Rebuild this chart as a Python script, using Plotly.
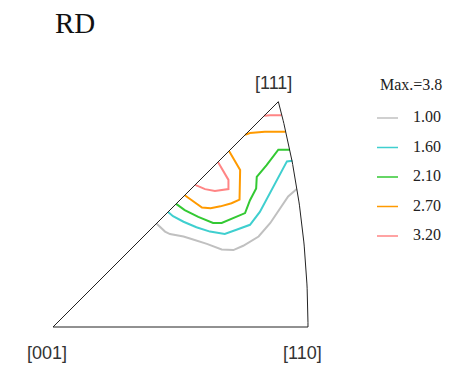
import numpy as np
import plotly.graph_objects as go

# Inverse pole figure (RD), stereographic projection of the standard triangle.
levels = ["1.00", "1.60", "2.10", "2.70", "3.20"]
colors = ["#c0c0c0", "#3fcfcf", "#33c933", "#ff9a00", "#ff8585"]
max_text = "Max.=3.8"

# Contour vertices (projection units); None separates pieces of the same level.
c100_x = [0.168, 0.182, 0.190, 0.212, 0.225, 0.250, 0.274, 0.293, 0.309, 0.334, 0.353, 0.369, 0.382, 0.396]
c100_y = [0.168, 0.155, 0.151, 0.147, 0.143, 0.135, 0.126, 0.125, 0.132, 0.147, 0.169, 0.193, 0.212, 0.224]

c160_x = [0.187, 0.195, 0.212, 0.233, 0.255, 0.279, 0.298, 0.320, 0.336, 0.355, 0.369, 0.380, 0.389]
c160_y = [0.187, 0.180, 0.171, 0.162, 0.155, 0.151, 0.158, 0.166, 0.187, 0.223, 0.247, 0.269, 0.270]

c210_x = [0.200, 0.214, 0.236, 0.260, 0.274, 0.293, 0.312, 0.320, 0.330, 0.331, 0.347, 0.366, 0.385]
c210_y = [0.200, 0.190, 0.179, 0.169, 0.169, 0.177, 0.185, 0.206, 0.225, 0.244, 0.263, 0.288, 0.288]

c270_x = [0.214, 0.225, 0.242, 0.256, 0.272, 0.290, 0.303, 0.304, 0.294, 0.286, None,
          0.312, 0.320, 0.344, 0.378]
c270_y = [0.214, 0.206, 0.194, 0.193, 0.196, 0.201, 0.207, 0.255, 0.271, 0.286, None,
          0.312, 0.315, 0.317, 0.317]

c320_x = [0.231, 0.247, 0.263, 0.276, 0.285, 0.285, 0.276, 0.268, None, 0.343, 0.353, 0.3715]
c320_y = [0.231, 0.224, 0.221, 0.223, 0.224, 0.239, 0.255, 0.268, None, 0.343, 0.344, 0.344]

contours_x = [c100_x, c160_x, c210_x, c270_x, c320_x]
contours_y = [c100_y, c160_y, c210_y, c270_y, c320_y]

# Triangle boundary: [001] -> [110] along the axis, great-circle arc up to [111],
# then straight back to [001].
v = np.linspace(0.0, 1.0, 60)
n = np.sqrt(2.0 + v ** 2)
arc_x = 1.0 / (n + 1.0)
arc_y = v / (n + 1.0)
tri_x = [0.0] + list(arc_x) + [0.0]
tri_y = [0.0] + list(arc_y) + [0.0]

W, H = 465, 367
scale = 615.6          # pixels per projection unit
ox, oy = 53, 327       # pixel position of [001]

fig = go.Figure()
for xs, ys, col in zip(contours_x, contours_y, colors):
    fig.add_trace(go.Scatter(x=xs, y=ys, mode="lines", connectgaps=False,
                             line=dict(color=col, width=2), hoverinfo="skip",
                             showlegend=False))
fig.add_trace(go.Scatter(x=tri_x, y=tri_y, mode="lines",
                         line=dict(color="#222222", width=1), hoverinfo="skip",
                         showlegend=False))

fig.update_xaxes(range=[-ox / scale, (W - ox) / scale], visible=False, fixedrange=True)
fig.update_yaxes(range=[(oy - H) / scale, oy / scale], visible=False, fixedrange=True)


def px(xp):
    return xp / W


def py(yp):
    return 1 - yp / H


serif = "Liberation Serif, Times New Roman, serif"
sans = "Liberation Sans, Arial, sans-serif"

annotations = [
    dict(text="RD", x=px(75), y=py(23), font=dict(family=serif, size=29, color="#111")),
    dict(text="[111]", x=px(273), y=py(83), font=dict(family=sans, size=18, color="#333")),
    dict(text="[001]", x=px(47), y=py(353), font=dict(family=sans, size=18, color="#333")),
    dict(text="[110]", x=px(302), y=py(353), font=dict(family=sans, size=18, color="#333")),
    dict(text=max_text, x=px(411), y=py(85), font=dict(family=serif, size=16, color="#222")),
]

shapes = []
leg_y0, leg_dy = 118, 29.5
for i, (lab, col) in enumerate(zip(levels, colors)):
    yy = leg_y0 + i * leg_dy
    shapes.append(dict(type="line", xref="paper", yref="paper",
                       x0=px(377), x1=px(398), y0=py(yy), y1=py(yy),
                       line=dict(color=col, width=1.5)))
    annotations.append(dict(text=lab, x=px(411), y=py(yy - 1.5), xanchor="left",
                            font=dict(family=serif, size=16, color="#222")))

for a in annotations:
    a.setdefault("xanchor", "center")
    a.update(xref="paper", yref="paper", yanchor="middle", showarrow=False)

fig.update_layout(width=W, height=H, margin=dict(l=0, r=0, t=0, b=0),
                  paper_bgcolor="white", plot_bgcolor="white",
                  annotations=annotations, shapes=shapes)

fig.write_html("out.html")
